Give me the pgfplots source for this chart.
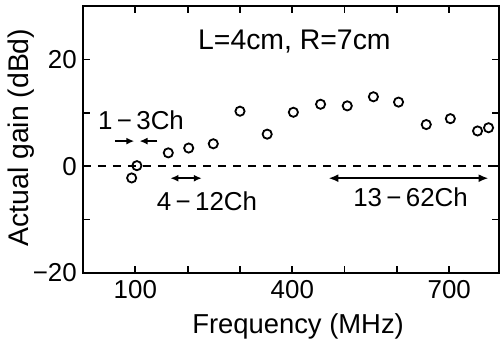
\documentclass[border=0pt]{standalone}
\usepackage{pgfplots}
\pgfplotsset{compat=1.18}
\usepackage{fontspec}
\setmainfont{Liberation Sans}
\usetikzlibrary{arrows.meta}
\begin{document}
\begin{tikzpicture}[font=\fontsize{26}{30}\selectfont]
\begin{axis}[
 scale only axis, width=416bp, height=267bp,
 xmin=0, xmax=795, ymin=-20, ymax=30,
 axis line style={line width=2.2bp},
 every tick/.style={line width=1.7bp, black},
 major tick length=7bp,
 tick align=inside,
 xtick={100,200,...,700}, xticklabels={100,,,400,,,700},
 ytick={-20,-10,...,20}, yticklabels={−20,,0,,20},
 xticklabel style={anchor=base, yshift=-25bp, inner sep=0pt},
 yticklabel style={anchor=east, xshift=-6bp, inner sep=0pt},
 xlabel={Frequency (MHz)}, ylabel={Actual gain (dBd)},
 xlabel style={at={(axis description cs:0.517,0)}, anchor=base, yshift=-60bp, inner sep=0pt, font=\fontsize{27.5}{32}\selectfont},
 ylabel style={at={(axis description cs:-0.149,0.507)}, anchor=center, inner sep=0pt, font=\fontsize{28.5}{32}\selectfont},
 clip=false,
]
\addplot[black, dash pattern=on 8bp off 7bp, line width=1.6bp] coordinates {(0,0) (795,0)};
\addplot[black, only marks, mark=o, mark size=4.6bp, mark options={line width=1.8bp}] coordinates {
(93,-2.2) (103,0.1) (163,2.5) (202,3.4) (249,4.2) (300,10.3) (352,6.0) (402,10.1)
(454,11.6) (505,11.3) (555,13.0) (603,12.0) (656,7.8) (702,8.9) (754,6.6) (775,7.2)};
% channel band arrows
\addplot[black, line width=2bp, -{Latex[length=8bp,width=7bp]}] coordinates {(61,4.7) (98,4.7)};
\addplot[black, line width=2bp, -{Latex[length=8bp,width=7bp]}] coordinates {(142,4.7) (108,4.7)};
\addplot[black, line width=2bp, {Latex[length=8bp,width=7bp]}-{Latex[length=8bp,width=7bp]}] coordinates {(167,-2.25) (227,-2.25)};
\addplot[black, line width=2.4bp, {Latex[length=10bp,width=8bp]}-{Latex[length=10bp,width=8bp]}] coordinates {(469,-2.25) (775,-2.25)};
\node[anchor=base, inner sep=0pt, font=\fontsize{28.5}{32}\selectfont] at (axis cs:404,21.8) {L=4cm, R=7cm};
\node[anchor=base, inner sep=0pt] at (axis cs:111,6.9) {1\,−\,3Ch};
\node[anchor=base, inner sep=0pt] at (axis cs:237,-8.25) {4\,−\,12Ch};
\node[anchor=base, inner sep=0pt] at (axis cs:626,-7.5) {13\,−\,62Ch};
\end{axis}
\pgfresetboundingbox
\path[use as bounding box] (-83bp,-66bp) rectangle (418bp,273bp);
\end{tikzpicture}
\end{document}
